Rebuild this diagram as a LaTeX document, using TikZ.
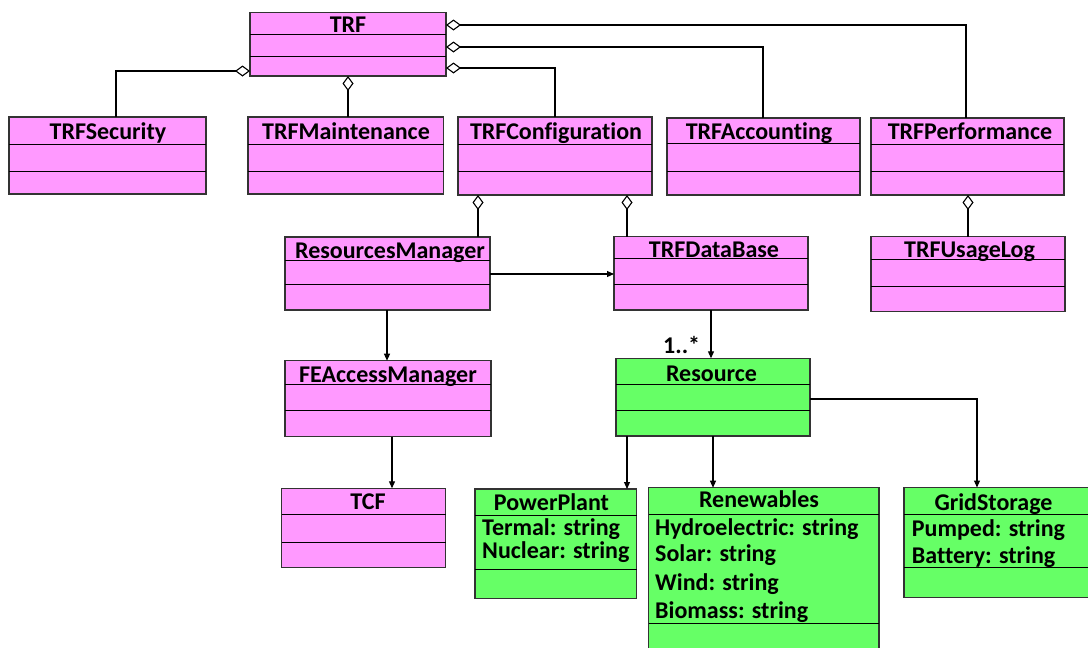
\documentclass[tikz,border=0pt]{standalone}
\usepackage{fontspec}
\setmainfont{Carlito}[Ligatures=NoCommon]
\usetikzlibrary{arrows.meta,fit}

\definecolor{classpink}{HTML}{FF99FF}
\definecolor{classgreen}{HTML}{66FF66}

\tikzset{
  classbody/.style={draw=black!80, line width=1.5pt, inner sep=0pt, outer sep=0pt},
  divider/.style={line width=1pt, black},
  ctitle/.style={font=\fontsize{24}{28}\selectfont\bfseries, inner sep=0pt, anchor=base},
  attr/.style={font=\fontsize{24}{28}\selectfont\bfseries, inner sep=0pt, anchor=base west},
  conn/.style={line width=1.1pt, black},
  agg/.style={conn, {Diamond[open, length=15pt, width=11pt, line width=1.1pt]}-},
  dep/.style={conn, -{Triangle[length=7pt, width=6pt]}},
}

% \umlclass{name}{fill}{x1}{y1}{x2}{y2}{first divider y}{second divider y}
\newcommand\umlclass[8]{%
  \node[classbody, fill=#2, fit={(#3,#4)(#5,#6)}] (#1) {};
  \draw[divider] (#3,#7) -- (#5,#7);
  \draw[divider] (#3,#8) -- (#5,#8);
}

\begin{document}
\begin{tikzpicture}[x=1pt, y=-1pt]
\clip (0,0) rectangle (1088,648);
\fill[white] (0,0) rectangle (1088,648);

% ---- classes ----
\umlclass{TRF}{classpink}{250}{12.5}{446}{76}{34}{56}
\node[ctitle] (TRF-t) at (348,32) {TRF};

\umlclass{sec}{classpink}{9}{117}{206}{194}{144}{171}
\node[ctitle] (sec-t) at (108,139) {TRFSecurity};

\umlclass{mnt}{classpink}{248}{117}{443.5}{194}{144}{171}
\node[ctitle] (mnt-t) at (346,139) {TRFMaintenance};

\umlclass{cfg}{classpink}{458}{117}{652}{195}{144}{171}
\node[ctitle] (cfg-t) at (556,139) {TRFConfiguration};

\umlclass{acc}{classpink}{667}{118}{860}{195}{143}{171}
\node[ctitle] (acc-t) at (759,139) {TRFAccounting};

\umlclass{perf}{classpink}{871}{118}{1064}{195}{144}{171}
\node[ctitle] (perf-t) at (970,139) {TRFPerformance};

\umlclass{log}{classpink}{871}{236.7}{1065}{311.7}{259}{286.7}
\node[ctitle] (log-t) at (969.5,257) {TRFUsageLog};

\umlclass{rm}{classpink}{285}{237}{490}{310}{260.7}{284.7}
\node[ctitle] (rm-t) at (390,258) {ResourcesManager};

\umlclass{db}{classpink}{614}{236.7}{808}{310}{258}{284}
\node[ctitle] (db-t) at (714,257) {TRFDataBase};

\umlclass{fe}{classpink}{285}{360.7}{491}{436.7}{384}{410.7}
\node[ctitle] (fe-t) at (388,382) {FEAccessManager};

\umlclass{res}{classgreen}{616}{358.3}{810}{436}{384}{410.7}
\node[ctitle] (res-t) at (711.5,381.7) {Resource};

\umlclass{tcf}{classpink}{281.7}{488.3}{445.7}{567.7}{514}{542.7}
\node[ctitle] (tcf-t) at (368,509) {TCF};

\umlclass{pp}{classgreen}{474.8}{489}{636.6}{598.3}{515}{569.3}
\node[ctitle] (pp-t) at (551.5,510) {PowerPlant};
\node[attr] (pp-a1) at (482,535) {Termal: string};
\node[attr] (pp-a2) at (482,558) {Nuclear: string};

\umlclass{ren}{classgreen}{648.6}{487.7}{879}{665}{514.3}{623}
\node[ctitle] (ren-t) at (759,507) {Renewables};
\node[attr] (ren-a1) at (655,535) {Hydroelectric: string};
\node[attr] (ren-a2) at (655,561.7) {Solar: string};
\node[attr] (ren-a3) at (655,590) {Wind: string};
\node[attr] (ren-a4) at (655,618) {Biomass: string};

\umlclass{gs}{classgreen}{904}{487.5}{1095}{597.3}{514}{567.3}
\node[ctitle] (gs-t) at (993.5,510) {GridStorage};
\node[attr] (gs-a1) at (911.7,536) {Pumped: string};
\node[attr] (gs-a2) at (911.7,563) {Battery: string};

% ---- aggregations ----
\draw[agg] (TRF.west |- 0,71) -| (sec.north -| 116,0);
\draw[agg] (TRF.south -| 348,0) -- (mnt.north -| 348,0);
\draw[agg] (TRF.east |- 0,68) -| (cfg.north -| 555,0);
\draw[agg] (TRF.east |- 0,47) -| (acc.north -| 763,0);
\draw[agg] (TRF.east |- 0,25) -| (perf.north -| 966,0);
\draw[agg] (cfg.south -| 478,0) -- (rm.north -| 478,0);
\draw[agg] (cfg.south -| 627,0) -- (db.north -| 627,0);
\draw[agg] (perf.south -| 968,0) -- (log.north -| 968,0);

% ---- directed associations ----
\draw[dep] (rm.east |- 0,274) -- (db.west |- 0,274);
\draw[dep] (rm.south -| 387,0) -- (fe.north -| 387,0);
\draw[dep] (db.south -| 711,0) -- (res.north -| 711,0);
\node[attr] (mult) at (663,353) {1..*};
\draw[dep] (fe.south -| 392,0) -- (tcf.north -| 392,0);
\draw[dep] (res.south -| 627,0) -- (pp.north -| 627,0);
\draw[dep] (res.south -| 713,0) -- (ren.north -| 713,0);
\draw[dep] (res.east |- 0,399) -| (gs.north -| 977,0);
\end{tikzpicture}
\end{document}
